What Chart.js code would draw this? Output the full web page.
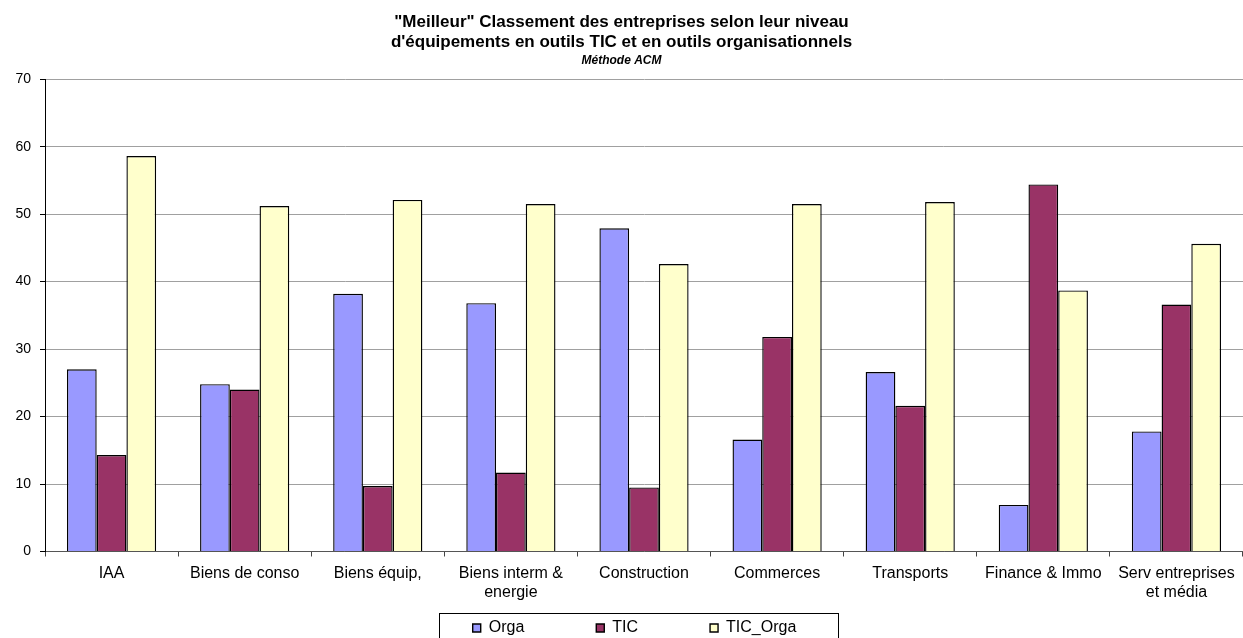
<!DOCTYPE html>
<html lang="fr">
<head>
<meta charset="utf-8">
<title>Classement des entreprises - Méthode ACM</title>
<script src="https://cdn.jsdelivr.net/npm/chart.js@4.4.0/dist/chart.umd.min.js"></script>
<style>
  body { margin: 0; background: #fff; }
</style>
</head>
<body>
<canvas id="graphique" width="1243" height="638"></canvas>
<script>
// Secteurs (axe des x)
var secteurs = ['IAA', 'Biens de conso', 'Biens équip,', ['Biens interm &', 'energie'], 'Construction',
  'Commerces', 'Transports', 'Finance & Immo', ['Serv entreprises', 'et média']];

// Valeurs (en %)
var orga    = [27.0, 24.8, 38.2, 36.8, 47.9, 16.6, 26.6, 6.9, 17.8];
var tic     = [14.3, 24.0, 9.7, 11.7, 9.5, 31.8, 21.6, 54.4, 36.6];
var ticOrga = [58.6, 51.2, 52.1, 51.5, 42.6, 51.5, 51.8, 38.7, 45.6];

var titre = ['"Meilleur" Classement des entreprises selon leur niveau',
  "d'équipements en outils TIC et en outils organisationnels"];
var sousTitre = 'Méthode ACM';

Chart.defaults.font.family = "'Liberation Sans', Arial, sans-serif";
Chart.defaults.color = '#000';

// Légende : on la remonte un peu et on trace un cadre autour (style Excel)
var cadreLegende = {
  id: 'cadreLegende',
  afterLayout: function(chart) {
    var leg = chart.legend;
    leg.top -= 60;      // le bas reste au bord du canvas (zone de clip)
    leg.left += 13;
    leg.right += 13;
  },
  afterDraw: function(chart) {
    var boxes = chart.legend.legendHitBoxes;
    if (!boxes || !boxes.length) return;
    var first = boxes[0];
    var last = boxes[boxes.length - 1];
    var x0 = Math.round(first.left - 34) + 0.5;
    var x1 = Math.round(last.left + last.width + 42) + 0.5;
    var y0 = Math.round(first.top - 7) + 0.5;
    var ctx = chart.ctx;
    ctx.save();
    ctx.strokeStyle = '#000';
    ctx.lineWidth = 1;
    ctx.strokeRect(x0, y0, x1 - x0, chart.height);
    ctx.restore();
  }
};

var ctx = document.getElementById('graphique').getContext('2d');

var graphique = new Chart(ctx, {
  type: 'bar',
  data: {
    labels: secteurs,
    datasets: [
      { label: 'Orga', data: orga, backgroundColor: '#9999FF', borderColor: '#000', borderWidth: 1.4 },
      { label: 'TIC', data: tic, backgroundColor: '#993366', borderColor: '#000', borderWidth: 1.4 },
      { label: 'TIC_Orga', data: ticOrga, backgroundColor: '#FFFFCC', borderColor: '#000', borderWidth: 1.4 }
    ]
  },
  options: {
    responsive: false,
    animation: false,
    layout: { padding: { left: 0, right: 0, top: 0, bottom: 0 } },
    datasets: {
      bar: { categoryPercentage: 0.67, barPercentage: 1.0 }
    },
    plugins: {
      title: {
        display: true,
        text: titre,
        font: { size: 17, weight: 'bold', lineHeight: 1.2 },
        padding: { top: 12, bottom: 0 }
      },
      subtitle: {
        display: true,
        text: sousTitre,
        font: { size: 12, weight: 'bold', style: 'italic' },
        padding: { top: 1, bottom: 11 }
      },
      legend: {
        position: 'bottom',
        maxHeight: 30,
        labels: {
          boxWidth: 8,
          boxHeight: 8,
          padding: 72,
          font: { size: 16 }
        }
      },
      tooltip: { enabled: false }
    },
    scales: {
      x: {
        grid: { drawOnChartArea: false, drawTicks: true, tickLength: 5, tickColor: '#444' },
        border: { color: '#555', width: 1 },
        ticks: { autoSkip: false, maxRotation: 0, minRotation: 0, padding: 7, font: { size: 16 } },
        afterFit: function(scale) { scale.height = 56.5; }
      },
      y: {
        min: 0,
        max: 70,
        grid: { color: '#a0a0a0', tickLength: 5, tickColor: '#000' },
        border: { color: '#000', width: 1 },
        ticks: { stepSize: 10, padding: 9, font: { size: 14 } },
        afterFit: function(scale) { scale.width = 45; }
      }
    }
  },
  plugins: [cadreLegende]
});
</script>
</body>
</html>
